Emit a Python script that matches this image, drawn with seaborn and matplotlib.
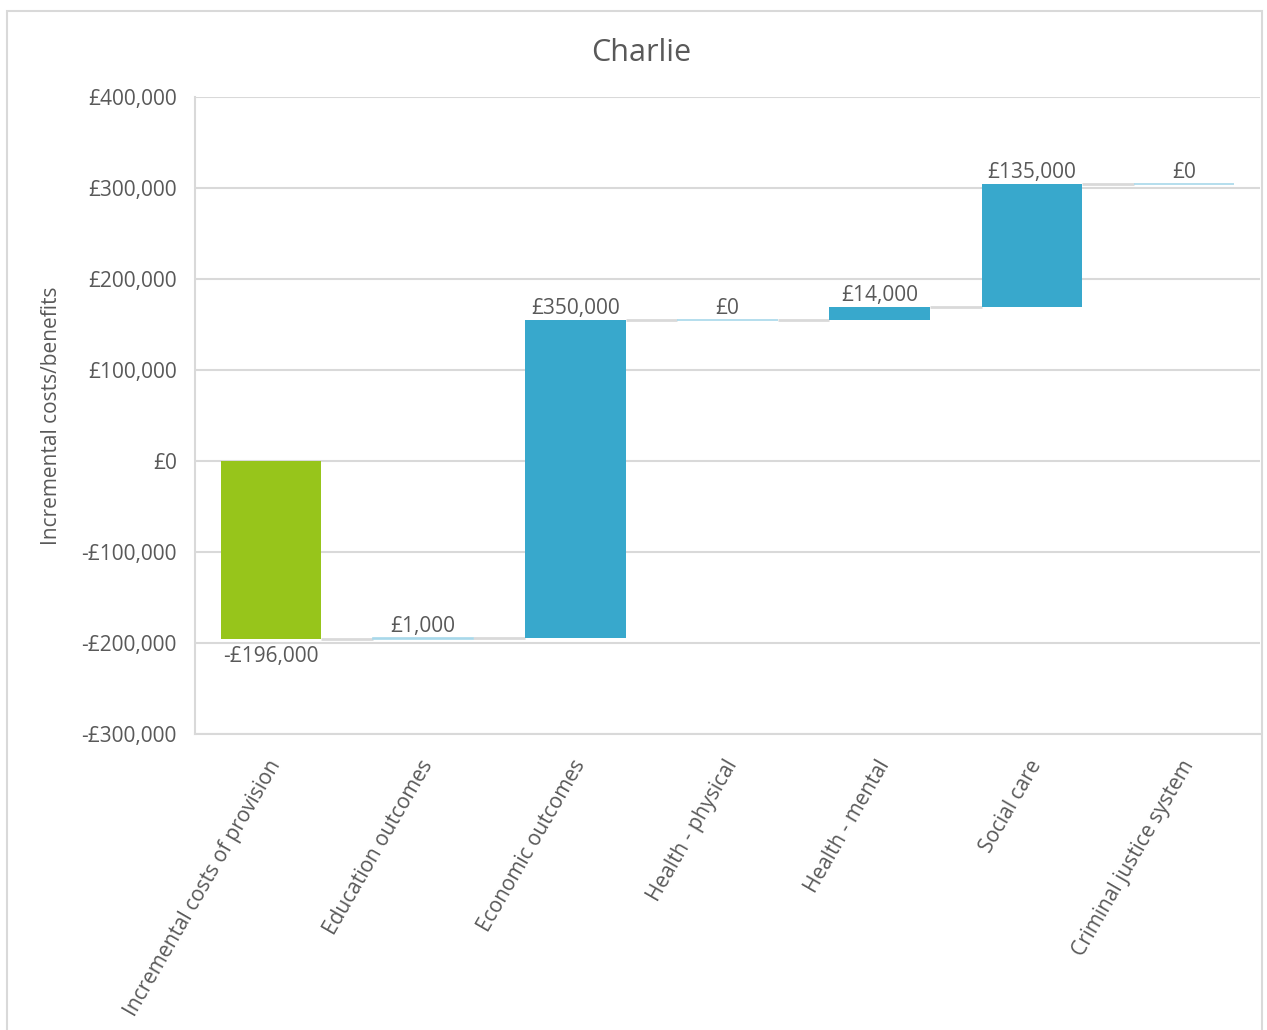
import numpy as np
import pandas as pd
import matplotlib
matplotlib.use("Agg")
import matplotlib.pyplot as plt
import matplotlib.transforms as mtransforms
import seaborn as sns

# Waterfall data: incremental costs and benefits per category
categories = [
    "Incremental costs of provision",
    "Education outcomes",
    "Economic outcomes",
    "Health - physical",
    "Health - mental",
    "Social care",
    "Criminal justice system",
]
values = [-196000, 1000, 350000, 0, 14000, 135000, 0]
title = "Charlie"
y_label = "Incremental costs/benefits"
y_ticks = [-300000, -200000, -100000, 0, 100000, 200000, 300000, 400000]

GREEN = "#97c51b"
BLUE = "#38a8cc"
THIN = "#a8d8ea"
GRID = "#d9d9d9"
TEXT = "#595959"

sns.set_theme(style="white")
plt.rcParams["font.family"] = ["Open Sans", "DejaVu Sans"]

ends = np.cumsum(values)
starts = np.concatenate([[0], ends[:-1]])
df = pd.DataFrame({"category": categories, "value": values})


def money(v):
    return ("-£" if v < 0 else "£") + f"{abs(v):,.0f}"


fig = plt.figure(figsize=(12.67, 10.30), dpi=100)
ax = fig.add_axes([0.1539, 0.2874, 0.8406, 0.6184])

width = 0.66
sns.barplot(data=df, x="category", y="value", order=categories, color=BLUE,
            width=width, errorbar=None, saturation=1, ax=ax, zorder=3)

# float each bar on top of the running total
for i, patch in enumerate(ax.patches):
    patch.set_y(starts[i])
    patch.set_height(values[i])
    patch.set_facecolor(GREEN if i == 0 else BLUE)
    if abs(values[i]) < 5000:
        patch.set_edgecolor(THIN)
        patch.set_linewidth(1.2)
    else:
        patch.set_edgecolor("none")

# connectors between consecutive bars
for i in range(len(values) - 1):
    ax.plot([i + width / 2, i + 1 - width / 2], [ends[i], ends[i]],
            color=GRID, lw=2, zorder=2, solid_capstyle="butt")

# value labels
for i, v in enumerate(values):
    if v < 0:
        ax.annotate(money(v), (i, min(starts[i], ends[i])), xytext=(0, -5),
                    textcoords="offset points", ha="center", va="top",
                    fontsize=15, color=TEXT, zorder=4)
    else:
        ax.annotate(money(v), (i, max(starts[i], ends[i])), xytext=(0, 1),
                    textcoords="offset points", ha="center", va="bottom",
                    fontsize=15, color=TEXT, zorder=4)

ax.set_xlim(-0.5, len(categories) - 0.5)
ax.set_ylim(y_ticks[0], y_ticks[-1])
ax.set_yticks(y_ticks)
ax.set_yticklabels([money(t) for t in y_ticks], fontsize=15, color=TEXT)
ax.yaxis.grid(True, color=GRID, lw=1.5, zorder=0)
ax.xaxis.grid(False)
ax.tick_params(axis="y", length=0, pad=13)
ax.tick_params(axis="x", length=0, pad=20)
ax.set_xticks(range(len(categories)))
ax.set_xticklabels(categories, rotation=60, ha="right", va="center",
                   rotation_mode="anchor", fontsize=15, color=TEXT)
shift = mtransforms.ScaledTranslation(5 / 100, 0, fig.dpi_scale_trans)
for lbl in ax.get_xticklabels():
    lbl.set_transform(lbl.get_transform() + shift)
ax.set_xlabel("")
ax.set_ylabel(y_label, fontsize=15, color=TEXT, labelpad=14)

for side in ["top", "right"]:
    ax.spines[side].set_visible(False)
for side in ["left", "bottom"]:
    ax.spines[side].set_color(GRID)
    ax.spines[side].set_linewidth(1.5)

fig.text(0.506, 0.949, title, ha="center", va="center", fontsize=22, color=TEXT)

# outer chart frame
frame = plt.Rectangle((7 / 1267, -0.01), 1255 / 1267, 1 - 11 / 1030 + 0.01,
                      transform=fig.transFigure, fill=False, edgecolor=GRID,
                      lw=1.5, zorder=0)
fig.patches.append(frame)

fig.savefig("out.png", dpi=100)
